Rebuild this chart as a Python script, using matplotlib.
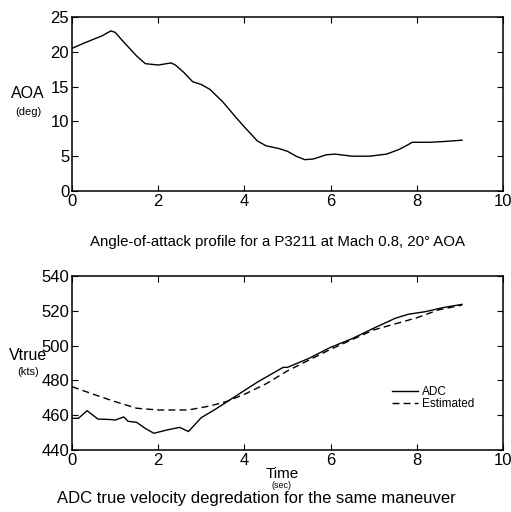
import numpy as np
import matplotlib
matplotlib.use("Agg")
import matplotlib.pyplot as plt

plt.rcParams['font.family'] = ['Liberation Sans', 'DejaVu Sans']

# angle of attack profile
t_aoa = [0, 0.3, 0.5, 0.7, 0.9, 1.0, 1.2, 1.5, 1.7, 2.0, 2.3, 2.4, 2.6, 2.8, 3.0,
         3.2, 3.5, 3.8, 4.0, 4.3, 4.5, 4.8, 5.0, 5.2, 5.4, 5.6, 5.9, 6.1, 6.5,
         6.9, 7.3, 7.6, 7.9, 8.3, 8.6, 9.05]
aoa = [20.5, 21.3, 21.8, 22.3, 23.0, 22.8, 21.4, 19.4, 18.3, 18.1, 18.4, 18.1,
       17.0, 15.7, 15.3, 14.6, 12.8, 10.6, 9.2, 7.2, 6.5, 6.1, 5.7, 5.0, 4.5,
       4.6, 5.2, 5.3, 5.0, 5.0, 5.3, 6.0, 7.0, 7.0, 7.1, 7.3]

# ADC true velocity
t_adc = [0, 0.15, 0.35, 0.6, 0.9, 1.0, 1.2, 1.3, 1.5, 1.7, 1.9, 2.2, 2.5, 2.7,
         3.0, 3.3, 3.6, 3.9, 4.3, 4.9, 5.0, 5.5, 6.0, 6.5, 7.0, 7.5, 7.8, 8.2,
         8.6, 9.05]
v_adc = [458.2, 458.2, 462.6, 457.8, 457.5, 457.2, 459.0, 456.5, 455.9, 452.4,
         449.6, 451.5, 453.0, 450.6, 458.6, 463.0, 467.8, 472.6, 479.0, 487.5,
         487.5, 492.7, 499.0, 504.0, 510.0, 515.7, 518.0, 519.5, 521.8, 523.7]

# estimated velocity
t_est = [0, 0.5, 1.0, 1.5, 2.0, 2.7, 3.2, 3.6, 4.0, 4.5, 5.0, 6.0, 7.0, 8.0,
         8.5, 9.05]
v_est = [476.4, 472.0, 467.8, 464.0, 463.0, 463.0, 465.3, 468.0, 472.0, 478.0,
         485.5, 497.9, 509.0, 516.0, 520.5, 523.3]

W, H = 511, 512
fig = plt.figure(figsize=(W / 100, H / 100), dpi=100)


def style(ax):
    ax.tick_params(direction='in', top=True, right=True, length=4,
                   labelsize=12, pad=2, width=0.8)
    for s in ax.spines.values():
        s.set_linewidth(1.1)
    ax.set_xlim(0, 10)
    ax.set_xticks([0, 2, 4, 6, 8, 10])


ax1 = fig.add_axes([72 / W, 1 - 191 / H, 431 / W, 174 / H])
ax1.plot(t_aoa, aoa, color='black', lw=1.0)
style(ax1)
ax1.set_ylim(0, 25)
ax1.set_yticks([0, 5, 10, 15, 20, 25])

ax2 = fig.add_axes([72 / W, 1 - 450 / H, 431 / W, 174 / H])
ax2.plot(t_adc, v_adc, color='black', lw=1.0, label='ADC')
ax2.plot(t_est, v_est, '--', color='black', lw=1.0, label='Estimated',
         dashes=(5, 3))
style(ax2)
ax2.set_ylim(440, 540)
ax2.set_yticks([440, 460, 480, 500, 520, 540])
leg = ax2.legend(loc='upper left', bbox_to_anchor=(392 / W, 1 - 386 / H),
                 bbox_transform=fig.transFigure,
                 frameon=False, fontsize=8.5, handlelength=2.2, handletextpad=0.35,
                 labelspacing=0.0, borderpad=0, borderaxespad=0)


def ftext(x, y, s, **kw):
    fig.text(x / W, 1 - y / H, s, ha='center', va='center', **kw)


ftext(28, 94, 'AOA', fontsize=11.5)
ftext(28.5, 112, '(deg)', fontsize=8)
ftext(277, 242, 'Angle-of-attack profile for a P3211 at Mach 0.8, 20\u00b0 AOA',
      fontsize=10.8)

ftext(28, 356, 'Vtrue', fontsize=11.5)
ftext(28.5, 372, '(kts)', fontsize=8)
ftext(282, 474, 'Time', fontsize=11)
ftext(282, 485, '(sec)', fontsize=6.5)
ftext(256, 498, 'ADC true velocity degredation for the same maneuver',
      fontsize=12)

fig.savefig('out.png', dpi=100)
